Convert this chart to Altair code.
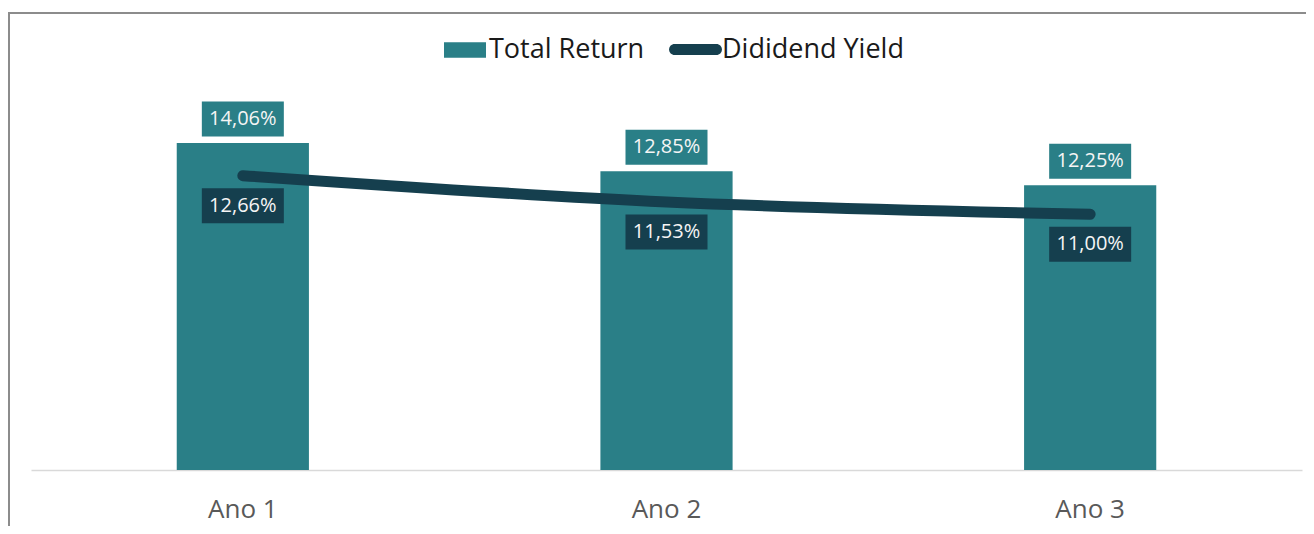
import altair as alt
import pandas as pd

categories = ["Ano 1", "Ano 2", "Ano 3"]
total_return = [14.06, 12.85, 12.25]
dividend_yield = [12.66, 11.53, 11.00]
tr_labels = ["14,06%", "12,85%", "12,25%"]
dy_labels = ["12,66%", "11,53%", "11,00%"]
series_names = ["Total Return", "Dididend Yield"]

df = pd.DataFrame({
    "cat": categories,
    "tr": total_return,
    "dy": dividend_yield,
    "tr_lab": tr_labels,
    "dy_lab": dy_labels,
    "s1": [series_names[0]] * 3,
    "s2": [series_names[1]] * 3,
})

TEAL = "#2A7F87"
DARK = "#153F4E"
FONT = "Open Sans"
BOX = "M-1,-0.427H1V0.427H-1Z"
LEG_RECT = "M-1,-0.37H1V0.37H-1Z"
LEG_CAP = "M-0.79,-0.2075H0.79A0.2075,0.2075 0 0 1 0.79,0.2075H-0.79A0.2075,0.2075 0 0 1 -0.79,-0.2075Z"

x = alt.X(
    "cat:N", sort=categories,
    scale=alt.Scale(paddingInner=0.688, paddingOuter=0.344),
    axis=alt.Axis(title=None, labelAngle=0, labelFontSize=26, labelColor="#595959",
                  labelFont=FONT, domainColor="#D9D9D9", domainWidth=1.5,
                  ticks=False, labelPadding=26),
)
yscale = alt.Scale(domain=[0, 16], nice=False, zero=True)

base = alt.Chart(df)

bars = base.mark_bar().encode(
    x=x,
    y=alt.Y("tr:Q", scale=yscale, axis=None),
    fill=alt.Fill(
        "s1:N",
        scale=alt.Scale(domain=[series_names[0]], range=[TEAL]),
        legend=alt.Legend(orient="none", legendX=413, legendY=-69, title=None,
                          labelFontSize=27, labelFont=FONT, labelColor="#1A1A1A",
                          symbolType=LEG_RECT, symbolSize=1764, labelOffset=3,
                          padding=0, symbolStrokeWidth=0, labelLimit=0),
    ),
)

line = base.mark_line(strokeWidth=11, strokeCap="round", interpolate="monotone").encode(
    x=x,
    y=alt.Y("dy:Q", scale=yscale, axis=None),
    stroke=alt.Stroke(
        "s2:N",
        scale=alt.Scale(domain=[series_names[1]], range=[DARK]),
        legend=alt.Legend(orient="none", legendX=638, legendY=-75, title=None,
                          labelFontSize=27, labelFont=FONT, labelColor="#1A1A1A",
                          symbolType=LEG_CAP, symbolSize=2809, labelOffset=0,
                          symbolFillColor=DARK, symbolStrokeWidth=0, padding=0,
                          labelLimit=0),
    ),
)

tr_box = base.mark_point(shape=BOX, size=6724, filled=True, fill=TEAL, opacity=1,
                         strokeWidth=0, yOffset=-24).encode(
    x=x, y=alt.Y("tr:Q", scale=yscale, axis=None))
tr_text = base.mark_text(color="#F5F5F5", fontSize=20, font=FONT, baseline="middle",
                         yOffset=-24).encode(
    x=x, y=alt.Y("tr:Q", scale=yscale, axis=None), text="tr_lab:N")

dy_box = base.mark_point(shape=BOX, size=6724, filled=True, fill=DARK, opacity=1,
                         strokeWidth=0, yOffset=30).encode(
    x=x, y=alt.Y("dy:Q", scale=yscale, axis=None))
dy_text = base.mark_text(color="#F5F5F5", fontSize=20, font=FONT, baseline="middle",
                         yOffset=30).encode(
    x=x, y=alt.Y("dy:Q", scale=yscale, axis=None), text="dy_lab:N")

frame_data = alt.Data(values=[{"k": 1}])
top_rule = alt.Chart(frame_data).mark_rule(color="#8C8C8C", strokeWidth=2).encode(
    x=alt.value(-23), x2=alt.value(1290), y=alt.value(-85))
left_rule = alt.Chart(frame_data).mark_rule(color="#8C8C8C", strokeWidth=2).encode(
    x=alt.value(-22), y=alt.value(-86), y2=alt.value(440))

chart = alt.layer(
    bars, line, tr_box, tr_text, dy_box, dy_text, top_rule, left_rule
).resolve_scale(
    fill="independent", stroke="independent"
).properties(
    width=1271, height=372,
    autosize=alt.AutoSizeParams(type="none"),
    padding={"left": 23, "top": 90, "right": 4, "bottom": 56},
).configure_view(stroke=None)

chart.save("out.html", embed_options={"renderer": "svg", "actions": False})
